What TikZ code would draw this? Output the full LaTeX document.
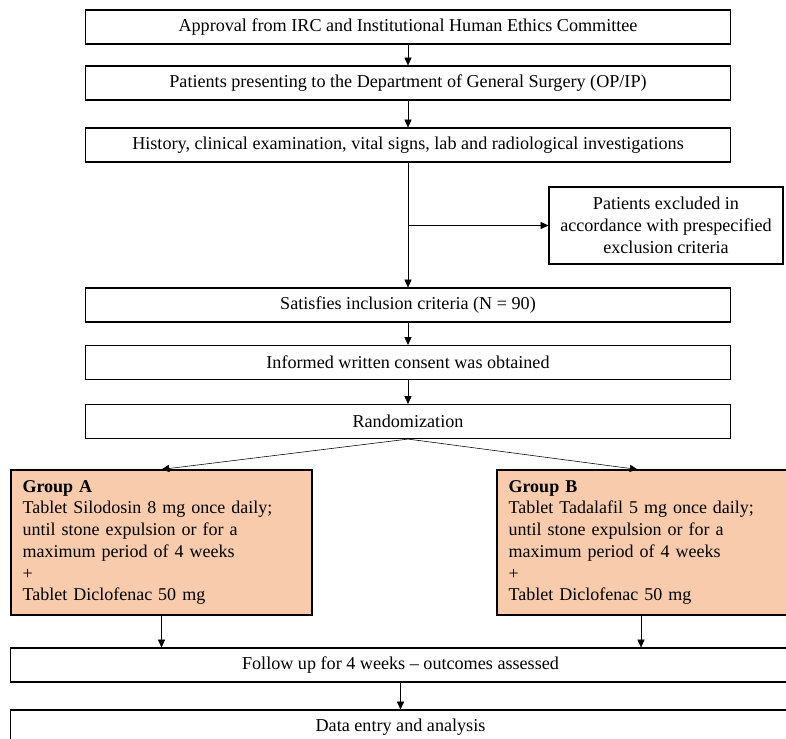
\documentclass[tikz,border=0pt]{standalone}
\usepackage{fontspec}
\setmainfont{Liberation Serif}
\usetikzlibrary{calc, positioning, arrows.meta}
\usepackage{xcolor}
\definecolor{peach}{RGB}{248, 203, 173}

\begin{document}
\begin{tikzpicture}[x=0.025cm, y=-0.025cm, >={Triangle[length=5.5pt,width=5pt]}]
        \tikzstyle{box}=[draw, thick, inner sep=0pt, minimum width=16.1cm, minimum height=0.85cm, font=\fontsize{12.9}{15.5}\selectfont]
        \tikzstyle{wide}=[box, minimum width=19.475cm]
        \tikzstyle{grp}=[draw, thick, fill=peach, inner xsep=0.29cm, inner ysep=0pt, minimum width=7.525cm, minimum height=3.625cm, text width=6.945cm, align=left, font=\fontsize{12.8}{15.45}\selectfont]

        \useasboundingbox (0,0) rectangle (786,738);

        % Main boxes
        \node[box] (approval) at (408,27) {Approval from IRC and Institutional Human Ethics Committee};
        \node[box] (present) at (408,83) {Patients presenting to the Department of General Surgery (OP/IP)};
        \node[box] (history) at (408,145) {History, clinical examination, vital signs, lab and radiological investigations};
        \node[box, minimum width=5.85cm, minimum height=1.925cm, align=center] (excl) at (666,225.5) {Patients excluded in\\accordance with prespecified\\exclusion criteria};
        \node[box] (incl) at (408,305) {Satisfies inclusion criteria (N = 90)};
        \node[box] (consent) at (408,362.5) {Informed written consent was obtained};
        \node[box] (rand) at (408,421.5) {Randomization};

        % Treatment groups
        \node[grp] (groupA) at (161.5,542.5) {\textbf{Group A}\\Tablet Silodosin 8 mg once daily;\\until stone expulsion or for a\\maximum period of 4 weeks\\+\\Tablet Diclofenac 50 mg};
        \node[grp] (groupB) at (647.5,542.5) {\textbf{Group B}\\Tablet Tadalafil 5 mg once daily;\\until stone expulsion or for a\\maximum period of 4 weeks\\+\\Tablet Diclofenac 50 mg};

        % Closing boxes
        \node[wide] (follow) at (400.5,665) {Follow up for 4 weeks -- outcomes assessed};
        \node[wide] (data) at (400.5,727) {Data entry and analysis};

        % Arrows
        \draw[->] (approval) -- (present);
        \draw[->] (present) -- (history);
        \draw[->] (history) -- (incl);
        \draw[->] (history.south |- excl.west) -- (excl.west);
        \draw[->] (incl) -- (consent);
        \draw[->] (consent) -- (rand);
        \draw[->] (rand.south) -- (groupA.north);
        \draw[->] (rand.south) -- ($(groupB.north)+(-10,0)$);
        \draw[->] (groupA.south) -- (groupA.south |- follow.north);
        \coordinate (b_out) at ($(groupB.south)+(-6.5,0)$);
        \draw[->] (b_out) -- (b_out |- follow.north);
        \draw[->] (follow) -- (data);
    \end{tikzpicture}
\end{document}
